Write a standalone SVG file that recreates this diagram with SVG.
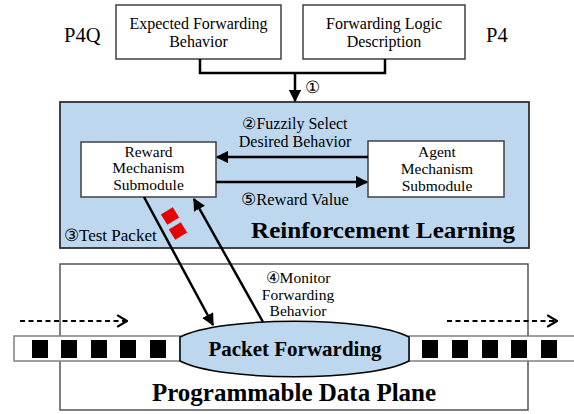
<svg xmlns="http://www.w3.org/2000/svg" width="574" height="414" viewBox="0 0 574 414">
  <style>
    text { font-family: "Liberation Serif", "Times New Roman", serif; fill: #000; }
    .box { fill: #fff; stroke: #404040; stroke-width: 1.5; }
    .lbl { font-size: 16px; text-anchor: middle; }
    .mod { font-size: 15.5px; text-anchor: middle; }
    .step { font-size: 16px; text-anchor: middle; }
    .mon { font-size: 15.5px; text-anchor: middle; }
    .big { font-weight: bold; text-anchor: middle; }
    .side { font-size: 20.5px; }
    .line { fill: none; stroke: #000; stroke-width: 2.5; }
    .dash { fill: none; stroke: #000; stroke-width: 2; stroke-dasharray: 5 3.5; }
    .pkt { fill: #000; }
    .strip { fill: #fff; stroke: #808080; stroke-width: 1.5; }
  </style>
  <defs>
    <marker id="head" viewBox="0 0 10 10" refX="9" refY="5" markerWidth="5" markerHeight="5" orient="auto" markerUnits="strokeWidth">
      <path d="M0,0 L10,5 L0,10 Z" fill="#000"/>
    </marker>
    <marker id="chev" viewBox="0 0 10 10" refX="9" refY="5" markerWidth="7" markerHeight="7" orient="auto" markerUnits="strokeWidth">
      <path d="M2,0.8 L9,5 L2,9.2" fill="none" stroke="#000" stroke-width="1.6"/>
    </marker>
  </defs>

  <!-- data plane container -->
  <g id="data-plane">
    <rect x="60" y="264" width="468" height="146" fill="#fff" stroke="#555" stroke-width="1.5"/>
    <text class="big" x="294" y="401" style="font-size:25px">Programmable Data Plane</text>
  </g>

  <!-- reinforcement learning container -->
  <g id="reinforcement-learning">
    <rect x="60" y="102" width="469" height="146" fill="#bdd7ee" stroke="#303030" stroke-width="1.8"/>
    <text class="big" x="383" y="238" style="font-size:23.5px" textLength="264" lengthAdjust="spacingAndGlyphs">Reinforcement Learning</text>
    <text x="64" y="241" style="font-size:17px">③Test Packet</text>
  </g>

  <!-- top inputs -->
  <g id="expected-behavior">
    <rect class="box" x="116" y="5" width="165" height="54"/>
    <text class="lbl" x="198.5" y="29">Expected Forwarding</text>
    <text class="lbl" x="198.5" y="46.5">Behavior</text>
    <text class="side" x="64" y="42">P4Q</text>
  </g>
  <g id="logic-description">
    <rect class="box" x="303" y="5" width="162" height="54"/>
    <text class="lbl" x="384" y="29">Forwarding Logic</text>
    <text class="lbl" x="384" y="46.5">Description</text>
    <text class="side" x="486" y="42">P4</text>
  </g>

  <g id="reward-submodule">
    <rect class="box" x="81" y="142" width="135" height="55" stroke="#000"/>
    <text class="mod" x="148.5" y="156.5">Reward</text>
    <text class="mod" x="148.5" y="173">Mechanism</text>
    <text class="mod" x="148.5" y="190">Submodule</text>
  </g>
  <g id="agent-submodule">
    <rect class="box" x="368" y="141" width="136" height="56" stroke="#555" stroke-width="1"/>
    <text class="mod" x="437" y="157">Agent</text>
    <text class="mod" x="437" y="174">Mechanism</text>
    <text class="mod" x="437" y="191">Submodule</text>
  </g>

  <!-- packet streams -->
  <g id="ingress">
    <rect class="strip" x="14" y="336" width="166" height="25"/>
    <rect class="pkt" x="32" y="340" width="16" height="18"/>
    <rect class="pkt" x="61" y="340" width="16" height="18"/>
    <rect class="pkt" x="91" y="340" width="16" height="18"/>
    <rect class="pkt" x="120" y="340" width="16" height="18"/>
    <rect class="pkt" x="150" y="340" width="16" height="18"/>
  </g>
  <g id="egress">
    <rect class="strip" x="409" y="336" width="170" height="25"/>
    <rect class="pkt" x="422" y="340" width="16" height="18"/>
    <rect class="pkt" x="452" y="340" width="16" height="18"/>
    <rect class="pkt" x="482" y="340" width="16" height="18"/>
    <rect class="pkt" x="511" y="340" width="16" height="18"/>
    <rect class="pkt" x="541" y="340" width="16" height="18"/>
  </g>

  <g id="packet-forwarding">
    <path d="M180,337 C220,316 370,316 409,337 L409,361 C370,382 220,382 180,361 Z" fill="#bdd7ee" stroke="#000" stroke-width="1.5"/>
    <text class="big" x="295" y="356" style="font-size:21px">Packet Forwarding</text>
  </g>

  <!-- test packets in flight -->
  <g id="test-packets" fill="#e60000">
    <rect x="-7" y="-6" width="14" height="12" transform="translate(170,216) rotate(-32)"/>
    <rect x="-7" y="-6" width="14" height="12" transform="translate(178,231) rotate(-32)"/>
  </g>

  <!-- connectors -->
  <g id="connectors">
    <path class="line" d="M200,59 V73 H385 V59"/>
    <path class="line" d="M295,73 V101" marker-end="url(#head)"/>
    <text x="305" y="93" style="font-size:17px">①</text>

    <path class="line" d="M368,157 H217" marker-end="url(#head)"/>
    <text class="step" x="295" y="129">②Fuzzily Select</text>
    <text class="step" x="295" y="146.5">Desired Behavior</text>

    <path class="line" d="M216,182 H367" marker-end="url(#head)"/>
    <text class="step" x="295" y="205" style="font-size:16.5px">⑤Reward Value</text>

    <path class="line" d="M144,197 L213,325" marker-end="url(#head)"/>
    <path class="line" d="M263,322 L194,199" marker-end="url(#head)"/>
    <text class="mon" x="298" y="283">④Monitor</text>
    <text class="mon" x="298" y="299.5">Forwarding</text>
    <text class="mon" x="298" y="316">Behavior</text>

    <path class="dash" d="M20,321 H127" marker-end="url(#chev)"/>
    <path class="dash" d="M447,321 H557" marker-end="url(#chev)"/>
  </g>
</svg>
